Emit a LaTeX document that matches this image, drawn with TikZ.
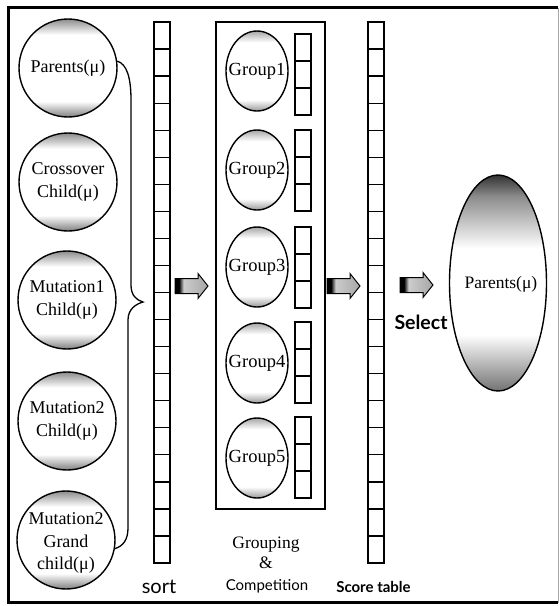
\documentclass[tikz,border=0pt]{standalone}
\usepackage{fontspec}
\setmainfont{Liberation Serif}
\newfontfamily\sansf{Lato}
\usetikzlibrary{shapes.geometric}
\pgfdeclareverticalshading{capshade}{100bp}{color(0bp)=(black!50); color(25bp)=(black!50); color(33bp)=(white); color(67bp)=(white); color(75bp)=(black!45); color(100bp)=(black!45)}
\pgfdeclareverticalshading{grpshade}{100bp}{color(0bp)=(black!40); color(25bp)=(black!40); color(32bp)=(white); color(68bp)=(white); color(75bp)=(black!35); color(100bp)=(black!35)}
\pgfdeclareverticalshading{bigshade}{100bp}{color(0bp)=(black!55); color(25bp)=(black!55); color(38bp)=(white); color(58bp)=(white); color(70bp)=(black!45); color(75bp)=(black!80); color(100bp)=(black!80)}
\pgfdeclarehorizontalshading{arrowshade}{100bp}{color(0bp)=(black); color(25bp)=(black); color(31bp)=(black); color(38bp)=(black!20); color(75bp)=(black!35); color(100bp)=(black!35)}
\tikzset{
  pop/.style={circle, draw, line width=1.4pt, minimum size=98pt, inner sep=0pt, shade, shading=capshade},
  gell/.style={ellipse, draw, line width=1.4pt, minimum width=62pt, minimum height=80pt, inner sep=0pt, shade, shading=grpshade},
  bigell/.style={ellipse, draw, line width=1.4pt, minimum width=97pt, minimum height=216pt, inner sep=0pt, shade, shading=bigshade},
  lbl/.style={font=\fontsize{18}{23}\selectfont, align=center, inner sep=0pt},
  lblthree/.style={font=\fontsize{18}{22.5}\selectfont, align=center, inner sep=0pt},
  glbl/.style={font=\fontsize{18.5}{22}\selectfont, inner sep=0pt},
  cell/.style={draw, line width=1.3pt, minimum width=16pt, minimum height=27.05pt, inner sep=0pt},
  gcell/.style={draw, line width=1.3pt, minimum width=16pt, minimum height=27pt, inner sep=0pt},
  gbox/.style={draw, line width=1.2pt, minimum width=109pt, minimum height=487pt, inner sep=0pt},
  sanstxt/.style={font=\sansf\fontsize{20}{24}\selectfont, inner sep=0pt, anchor=base},
  boldtxt/.style={font=\sansf\bfseries\fontsize{15}{18}\selectfont, inner sep=0pt, anchor=base},
  serftxt/.style={font=\fontsize{17.5}{21}\selectfont, inner sep=0pt, anchor=base},
  barrow/.pic={\path[draw, line width=1pt, shading=arrowshade] (0,-7.5) -- (23,-7.5) -- (23,-12.5) -- (33,0) -- (23,12.5) -- (23,7.5) -- (0,7.5) -- cycle;}
}
\begin{document}
\begin{tikzpicture}[x=1pt,y=-1pt]
\useasboundingbox (0,0) rectangle (560,606);
% frame
\draw[line width=0.6pt, black!35] (558,7.5) -- (558,602.5);
\draw[line width=3pt] (558,7.5) -- (8.5,7.5) -- (8.5,602.5) -- (558,602.5);
% population circles
\node[pop] (p1) at (68,68) {};
\node[lbl] (p1t) at (p1.center) {Parents(μ)};
\node[pop] (p2) at (68,182) {};
\node[lbl] (p2t) at (p2.center) {Crossover\\Child(μ)};
\node[pop] (p3) at (67,300) {};
\node[lbl] (p3t) at (p3.center) {Mutation1\\Child(μ)};
\node[pop] (p4) at (67,421) {};
\node[lbl] (p4t) at (p4.center) {Mutation2\\Child(μ)};
\node[pop] (p5) at (66,540) {};
\node[lblthree] (p5t) at ([yshift=-3pt]p5.center) {Mutation2\\Grand\\child(μ)};
% brace
\draw[line width=1.3pt] (p1.8) .. controls (127,64) and (131,78) .. (131,100) -- (131,285) .. controls (131,295) and (136,300) .. (143,302) .. controls (136,304) and (128,309) .. (128,320) -- (128,528) .. controls (128,540) and (123,546) .. (p5.-10);
% sort column
\foreach \i in {0,...,19} { \node[cell] (s\i) at (162, 35.525+27.05*\i) {}; }
\node[sanstxt] (sortt) at (159,593) {sort};
% arrow 1
\pic at (175,286) {barrow};
% grouping box
\node[gbox] (box) at (270.5,265.5) {};
\foreach \k/\c/\t in {1/71/34, 2/170/130, 3/267/227, 4/363/322, 5/458/417} {
  \node[gell] (g\k) at (257,\c) {};
  \node[glbl] (g\k-t) at (g\k.center) {Group\k};
  \foreach \j in {0,1,2} { \node[gcell] (g\k-c\j) at (303, \t+13.5+27*\j) {}; }
}
\node[serftxt] (grpt) at (266,548) {Grouping};
\node[serftxt] (ampt) at (266,568) {\&};
\node[sanstxt, font=\sansf\fontsize{15}{18}\selectfont] (compt) at (267,590) {Competition};
% arrow 2
\pic at (327,286) {barrow};
% score table
\foreach \i in {0,...,19} { \node[cell] (t\i) at (376, 35.525+27.05*\i) {}; }
\node[boldtxt] (scoret) at (373.5,592) {Score table};
% arrow 3
\pic at (400,285) {barrow};
\node[boldtxt, font=\sansf\bfseries\fontsize{19.5}{22}\selectfont] (selt) at (421,329) {Select};
% new parents
\node[bigell] (par) at (498,283) {};
\node[serftxt, font=\fontsize{17.5}{21}\selectfont] (part) at (501,288) {Parents(μ)};
\end{tikzpicture}
\end{document}
